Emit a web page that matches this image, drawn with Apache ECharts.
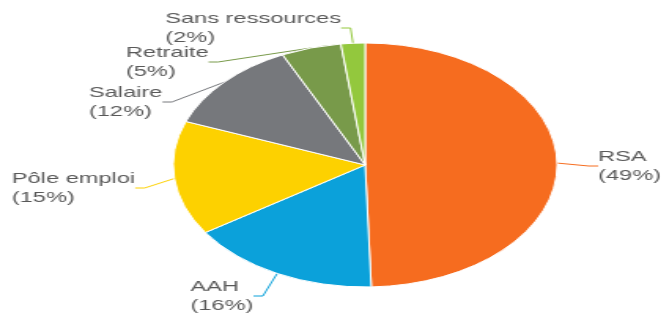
<!DOCTYPE html>
<html>
<head>
<meta charset="utf-8">
<script src="https://cdn.jsdelivr.net/npm/echarts@6/dist/echarts.min.js"></script>
<style>
  html, body { margin: 0; padding: 0; background: #fff; overflow: hidden; }
  /* the source picture is stretched horizontally, so draw narrow and scale */
  #chart { width: 420px; height: 317px; transform: scaleX(1.574); transform-origin: 0 0; }
</style>
</head>
<body>
<div id="chart"></div>
<script>
const categories = ['RSA', 'AAH', 'Pôle emploi', 'Salaire', 'Retraite', 'Sans ressources']
const shares = [49, 16, 15, 12, 5, 2]
const colors = ['#F66C1F', '#0BA1DA', '#FDD100', '#76787C', '#789A4A', '#93C83D']
// label anchor (left, middle) in unscaled px
const labelPos = [[380, 166], [121, 296], [7.5, 188], [56.5, 102], [80, 62], [105, 28]]

const chart = echarts.init(document.getElementById('chart'))
chart.setOption({
  animation: false,
  series: [{
    type: 'pie',
    center: [232, 165],
    radius: 122,
    startAngle: 90,
    clockwise: true,
    itemStyle: { borderColor: '#fff', borderWidth: 1 },
    label: {
      show: true,
      formatter: p => p.name + '\n(' + p.value + '%)',
      color: '#595959',
      fontFamily: 'Liberation Sans, Arial, sans-serif',
      fontSize: 15,
      lineHeight: 19,
      align: 'left',
      overflow: 'none'
    },
    labelLine: { show: true, length: 10, length2: 6, lineStyle: { width: 1 } },
    labelLayout: p => ({
      x: labelPos[p.dataIndex][0],
      y: labelPos[p.dataIndex][1],
      align: 'left',
      verticalAlign: 'middle'
    }),
    emphasis: { disabled: true },
    data: categories.map((c, i) => ({ name: c, value: shares[i], itemStyle: { color: colors[i] } }))
  }]
})
</script>
</body>
</html>
